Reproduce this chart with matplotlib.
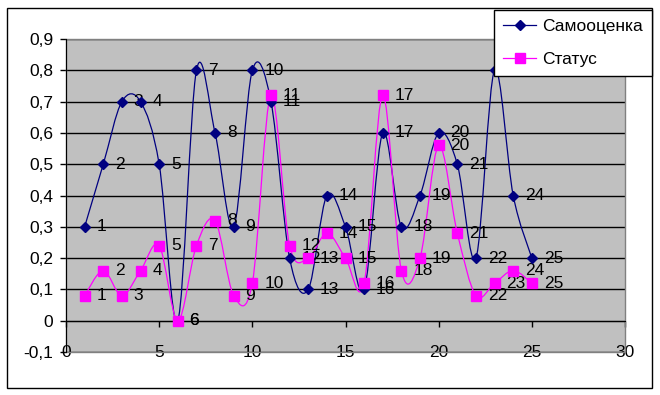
import matplotlib
matplotlib.use("Agg")
import matplotlib.pyplot as plt
from matplotlib.path import Path
from matplotlib.patches import PathPatch, Rectangle
from matplotlib.lines import Line2D
import numpy as np

plt.rcParams['font.family'] = ['Liberation Sans', 'DejaVu Sans']
plt.rcParams['font.size'] = 12.5

# data
x = list(range(1, 26))
samoocenka = [0.3, 0.5, 0.7, 0.7, 0.5, 0.0, 0.8, 0.6, 0.3, 0.8,
              0.7, 0.2, 0.1, 0.4, 0.3, 0.1, 0.6, 0.3, 0.4, 0.6,
              0.5, 0.2, 0.8, 0.4, 0.2]
status = [0.08, 0.16, 0.08, 0.16, 0.24, 0.0, 0.24, 0.32, 0.08, 0.12,
          0.72, 0.24, 0.2, 0.28, 0.2, 0.12, 0.72, 0.16, 0.2, 0.56,
          0.28, 0.08, 0.12, 0.16, 0.12]
series_names = ['Самооценка', 'Статус']
yticks = [-0.1, 0, 0.1, 0.2, 0.3, 0.4, 0.5, 0.6, 0.7, 0.8, 0.9]
ytick_labels = ['-0,1', '0', '0,1', '0,2', '0,3', '0,4', '0,5', '0,6',
                '0,7', '0,8', '0,9']
xticks = [0, 5, 10, 15, 20, 25, 30]

NAVY = '#000080'
MAGENTA = '#FF00FF'


def smooth_path(xs, ys):
    # Excel-like smoothed line: Catmull-Rom as cubic bezier segments
    p = np.column_stack([xs, ys]).astype(float)
    n = len(p)
    verts = [p[0]]
    codes = [Path.MOVETO]
    for i in range(n - 1):
        p0 = p[i - 1] if i > 0 else p[i]
        p3 = p[i + 2] if i + 2 < n else p[i + 1]
        c1 = p[i] + (p[i + 1] - p0) / 6.0
        c2 = p[i + 1] - (p3 - p[i]) / 6.0
        verts += [c1, c2, p[i + 1]]
        codes += [Path.CURVE4] * 3
    return Path(verts, codes)


fig = plt.figure(figsize=(6.6, 3.95), dpi=100)
ax = fig.add_axes([66 / 660, 1 - 352 / 395, 559 / 660, 313 / 395])
ax.set_facecolor('#C0C0C0')

for ys, col, mk, ms in [(samoocenka, NAVY, 'D', 5.5), (status, MAGENTA, 's', 6.8)]:
    ax.add_patch(PathPatch(smooth_path(x, ys), facecolor='none',
                           edgecolor=col, lw=0.9, zorder=3))
    ax.plot(x, ys, linestyle='none', marker=mk, color=col, markersize=ms,
            markeredgecolor=col, zorder=5)
    for xi, yi in zip(x, ys):
        ax.annotate(str(xi), (xi, yi), xytext=(8.5, 0),
                    textcoords='offset points', ha='left', va='center',
                    color='black', zorder=4)

ax.set_xlim(0, 30)
ax.set_ylim(-0.1, 0.9)
ax.set_yticks(yticks)
ax.set_yticklabels(ytick_labels)
ax.set_xticks(xticks)

ax.yaxis.grid(True, color='black', lw=1)
ax.set_axisbelow(True)

ax.spines['top'].set_visible(False)
ax.spines['right'].set_visible(False)
ax.spines['bottom'].set_position(('data', 0))
ax.spines['bottom'].set_color('black')
ax.spines['left'].set_color('black')
ax.spines['bottom'].set_zorder(2.5)
ax.tick_params(axis='y', direction='out', length=4, width=1, pad=5)
ax.tick_params(axis='x', direction='out', length=4.3, width=1, pad=13)

ax.add_patch(Rectangle((0, 0), 1, 1, transform=ax.transAxes, fill=False,
                       edgecolor='#808080', lw=1, zorder=2.2, clip_on=False))

handles = [Line2D([], [], color=NAVY, marker='D', markersize=5.5, lw=0.9),
           Line2D([], [], color=MAGENTA, marker='s', markersize=6.8, lw=0.9)]
leg = fig.legend(handles, series_names, loc='upper right',
                 bbox_to_anchor=(652 / 660, 1 - 10 / 395),
                 bbox_transform=fig.transFigure, borderaxespad=0,
                 fancybox=False, framealpha=1, edgecolor='black',
                 handlelength=1.9, handletextpad=0.35, labelspacing=1.0,
                 borderpad=0.52)
leg.get_frame().set_linewidth(1)

fig.add_artist(Rectangle((7 / 660, 1 - 388 / 395), 645 / 660, 380 / 395,
                         transform=fig.transFigure, fill=False,
                         edgecolor='black', lw=1))

fig.savefig('out.png', dpi=100)
